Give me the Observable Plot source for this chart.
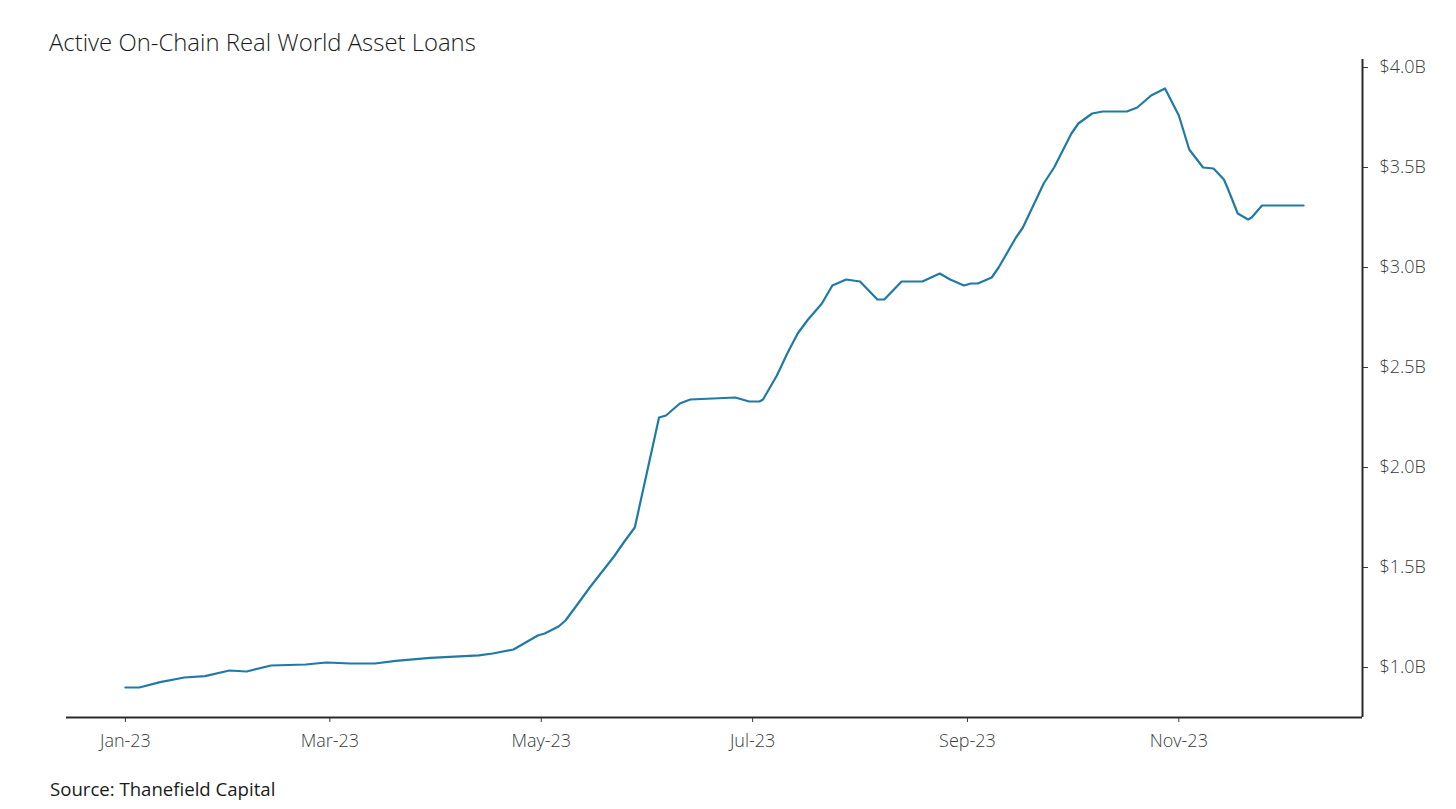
<!DOCTYPE html>
<html>
<head>
<meta charset="utf-8">
<script src="https://cdn.jsdelivr.net/npm/d3@7"></script>
<script src="https://cdn.jsdelivr.net/npm/@observablehq/plot@0.6"></script>
<style>
  body { margin: 0; background: #fff; }
  #wrap { position: relative; width: 1456px; height: 809px; font-family: "Open Sans", sans-serif; }
  #title { position: absolute; left: 49px; top: 27px; font-size: 23.9px; line-height: 30px; font-weight: 300; color: #1a1a1a; }
  #caption { position: absolute; left: 50px; top: 776px; font-size: 18.6px; line-height: 26px; font-weight: 400; color: #1a1a1a; }
  #chart { position: absolute; left: 0; top: 0; }
</style>
</head>
<body>
<div id="wrap">
  <div id="chart"></div>
  <div id="title">Active On-Chain Real World Asset Loans</div>
  <div id="caption">Source: Thanefield Capital</div>
</div>
<script>
const dates = [
  "2023-01-01","2023-01-05","2023-01-11","2023-01-18","2023-01-24","2023-01-31",
  "2023-02-05","2023-02-12","2023-02-22","2023-02-28","2023-03-07","2023-03-14",
  "2023-03-20","2023-03-30","2023-04-13","2023-04-17","2023-04-23","2023-04-30",
  "2023-05-02","2023-05-06","2023-05-08","2023-05-11","2023-05-15","2023-05-22",
  "2023-05-25","2023-05-28","2023-06-04","2023-06-06","2023-06-10","2023-06-13",
  "2023-06-26","2023-06-30","2023-07-03","2023-07-04","2023-07-08","2023-07-11",
  "2023-07-14","2023-07-17","2023-07-21","2023-07-24","2023-07-28","2023-08-01",
  "2023-08-06","2023-08-08","2023-08-13","2023-08-19","2023-08-24","2023-08-27",
  "2023-08-31","2023-09-02","2023-09-04","2023-09-08","2023-09-10","2023-09-15",
  "2023-09-17","2023-09-23","2023-09-26","2023-10-01","2023-10-03","2023-10-07",
  "2023-10-10","2023-10-17","2023-10-20","2023-10-24","2023-10-28","2023-11-01",
  "2023-11-04","2023-11-08","2023-11-11","2023-11-14","2023-11-15","2023-11-18",
  "2023-11-21","2023-11-22","2023-11-25","2023-11-29","2023-12-07"
];
const loansB = [
  0.900,0.900,0.927,0.950,0.957,0.985,
  0.980,1.010,1.015,1.025,1.020,1.020,
  1.033,1.048,1.061,1.070,1.090,1.160,
  1.170,1.205,1.235,1.305,1.400,1.555,
  1.630,1.700,2.250,2.260,2.320,2.340,
  2.350,2.330,2.330,2.340,2.460,2.570,
  2.670,2.740,2.820,2.910,2.940,2.930,
  2.840,2.840,2.930,2.930,2.970,2.940,
  2.910,2.920,2.920,2.950,3.000,3.150,
  3.200,3.420,3.500,3.670,3.720,3.770,
  3.780,3.780,3.800,3.860,3.895,3.760,
  3.590,3.500,3.495,3.440,3.400,3.270,
  3.240,3.250,3.310,3.310,3.310
];
const xTickDates = ["2023-01-01","2023-03-01","2023-05-01","2023-07-01","2023-09-01","2023-11-01"];
const yTickValues = [1.0, 1.5, 2.0, 2.5, 3.0, 3.5, 4.0];
const xDomain = ["2022-12-15","2023-12-24"];
const yDomain = [0.75, 4.04];

const data = dates.map((d, i) => ({date: new Date(d), value: loansB[i]}));
const xd = xDomain.map(d => new Date(d));

const chart = Plot.plot({
  width: 1456,
  height: 760,
  marginTop: 59,
  marginBottom: 43,
  marginLeft: 66,
  marginRight: 94,
  style: {fontFamily: "'Open Sans', sans-serif", fontSize: "18px", fontWeight: 300, background: "transparent"},
  x: {type: "utc", domain: xd},
  y: {domain: yDomain},
  marks: [
    Plot.axisX({
      ticks: xTickDates.map(d => new Date(d)),
      tickFormat: d3.utcFormat("%b-%y"),
      tickSize: 5, tickPadding: 12, label: null, color: "#3a3a3a", fontSize: 18
    }),
    Plot.axisY({
      anchor: "right",
      ticks: yTickValues,
      tickFormat: d => `$${d.toFixed(1)}B`,
      tickSize: 5, tickPadding: 12, label: null, color: "#3a3a3a", fontSize: 18
    }),
    Plot.ruleY([yDomain[0]], {stroke: "#2b2b2b", strokeWidth: 2}),
    Plot.ruleX([xd[1]], {stroke: "#2b2b2b", strokeWidth: 2}),
    Plot.lineY(data, {x: "date", y: "value", stroke: "#1f7aa6", strokeWidth: 2.2})
  ]
});
document.getElementById("chart").appendChild(chart);
</script>
</body>
</html>
